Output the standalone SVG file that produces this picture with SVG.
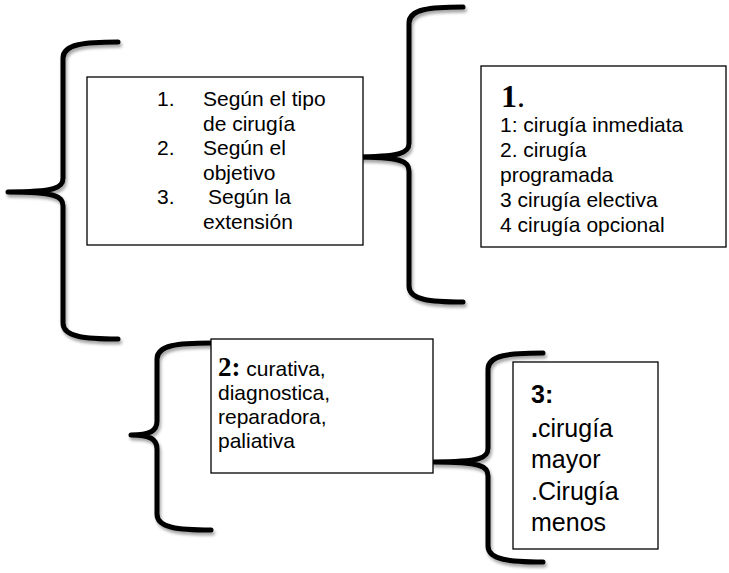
<svg xmlns="http://www.w3.org/2000/svg" width="729" height="573" viewBox="0 0 729 573">
<defs>
<filter id="sh" x="-20%" y="-5%" width="140%" height="115%">
<feDropShadow dx="1.5" dy="3" stdDeviation="1.8" flood-color="#000" flood-opacity="0.35"/>
</filter>
</defs>
<style>
.box{fill:#fff;stroke:#000;stroke-width:1.3}
.br{fill:none;stroke:#000;stroke-width:5;stroke-linecap:round;stroke-linejoin:round;filter:url(#sh)}
.t{font-family:"Liberation Sans",Arial,sans-serif;font-size:21px;fill:#000}
.t4{font-family:"Liberation Sans",Arial,sans-serif;font-size:25px;fill:#000}
.serifb{font-family:"Liberation Serif","Times New Roman",serif;font-weight:bold}
.b{font-weight:bold}
</style>
<rect width="729" height="573" fill="#fff"/>
<g id="connectors">
<path class="br" d="M118,42 C85,42 63,44 63,58 L63,178 C63,188 55,192 8,192 C55,192 63,196 63,206 L63,323 C63,337 85,339 118,339"/>
<path class="br" d="M463,7 C430,7 409,9 409,23 L409,143 C409,153 401,157 353,157 C401,157 409,161 409,171 L409,286 C409,300 430,302 463,302"/>
<path class="br" d="M211,343 C178,343 157,345 157,359 L157,421 C157,431 150,435 131,435 C150,435 157,439 157,449 L157,514 C157,528 178,530 211,530"/>
<path class="br" d="M543,353 C510,353 488,355 488,369 L488,448 C488,458 481,462 433,462 C481,462 488,466 488,476 L488,546 C488,560 510,562 543,562"/>
</g>
<g id="node-criterios">
<rect class="box" x="87" y="77" width="276" height="168"/>
<text class="t" x="157" y="106">1.</text>
<text class="t" x="203" y="106">Según el tipo</text>
<text class="t" x="203" y="130.5">de cirugía</text>
<text class="t" x="157" y="155">2.</text>
<text class="t" x="203" y="155">Según el</text>
<text class="t" x="203" y="179.5">objetivo</text>
<text class="t" x="157" y="204">3.</text>
<text class="t" x="208" y="204">Según la</text>
<text class="t" x="203" y="228.5">extensión</text>
</g>
<g id="node-tipo">
<rect class="box" x="481" y="66" width="245" height="181"/>
<text x="501" y="107" style="font-family:'Liberation Serif','Times New Roman',serif;font-size:32px"><tspan font-weight="bold">1</tspan>.</text>
<text class="t" x="500" y="132">1: cirugía inmediata</text>
<text class="t" x="500" y="157">2. cirugía</text>
<text class="t" x="500" y="182">programada</text>
<text class="t" x="500" y="207">3 cirugía electiva</text>
<text class="t" x="500" y="232">4 cirugía opcional</text>
</g>
<g id="node-objetivo">
<rect class="box" x="211" y="339" width="222" height="134"/>
<text class="t" x="218" y="376"><tspan class="serifb" font-size="27">2:</tspan> curativa,</text>
<text class="t" x="218" y="400">diagnostica,</text>
<text class="t" x="218" y="424">reparadora,</text>
<text class="t" x="218" y="448">paliativa</text>
</g>
<g id="node-extension">
<rect class="box" x="513" y="362" width="145" height="187"/>
<text class="t4 b" x="531" y="403">3:</text>
<text class="t4" x="531" y="437"><tspan class="b">.</tspan>cirugía</text>
<text class="t4" x="531" y="468">mayor</text>
<text class="t4" x="531" y="500">.Cirugía</text>
<text class="t4" x="531" y="531">menos</text>
</g>
</svg>
